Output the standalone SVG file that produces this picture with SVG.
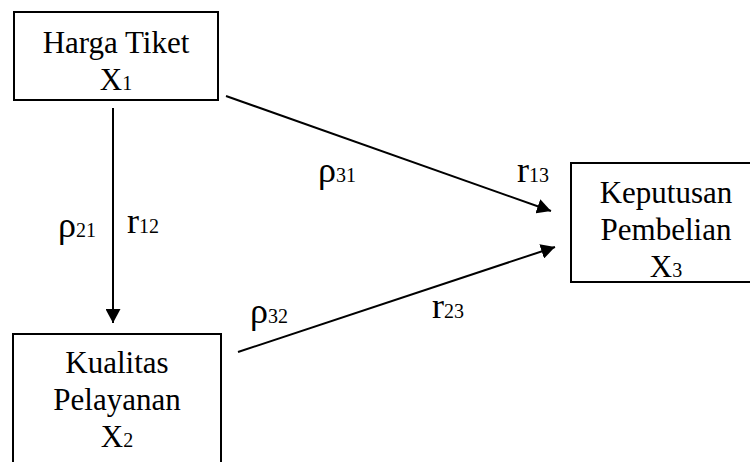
<svg xmlns="http://www.w3.org/2000/svg" width="750" height="462" viewBox="0 0 750 462">
<style>
.box{fill:#fff;stroke:#000;stroke-width:2}
.t{font-family:"Liberation Serif","Times New Roman",serif;font-size:31px;fill:#000}
.l{font-family:"Liberation Serif","Times New Roman",serif;font-size:36px;fill:#000}
.s{font-size:20px}
.c{stroke:#000;stroke-width:2;fill:none}
</style>
<defs>
<marker id="ah" markerUnits="userSpaceOnUse" markerWidth="15" markerHeight="15" refX="14" refY="7.5" orient="auto">
<path d="M0,0 L14,7.5 L0,15 z" fill="#000"/>
</marker>
</defs>
<rect width="750" height="462" fill="#fff"/>
<g id="connectors">
<line class="c" x1="113" y1="108" x2="113" y2="323" marker-end="url(#ah)"/>
<line class="c" x1="226" y1="96" x2="551" y2="211" marker-end="url(#ah)"/>
<line class="c" x1="238" y1="352" x2="555" y2="247" marker-end="url(#ah)"/>
</g>
<g id="labels">
<text class="l" x="58" y="237">ρ<tspan class="s">21</tspan></text>
<text class="l" x="127" y="233">r<tspan class="s">12</tspan></text>
<text class="l" x="318" y="182">ρ<tspan class="s">31</tspan></text>
<text class="l" x="517" y="182">r<tspan class="s">13</tspan></text>
<text class="l" x="250" y="323">ρ<tspan class="s">32</tspan></text>
<text class="l" x="432" y="318">r<tspan class="s">23</tspan></text>
</g>
<g id="x1">
<rect class="box" x="14" y="12" width="204" height="88"/>
<text class="t" x="116" y="53" text-anchor="middle">Harga Tiket</text>
<text class="t" x="116" y="90" text-anchor="middle">X<tspan class="s">1</tspan></text>
</g>
<g id="x2">
<rect class="box" x="13" y="334" width="208" height="140"/>
<text class="t" x="117" y="373" text-anchor="middle">Kualitas</text>
<text class="t" x="117" y="410" text-anchor="middle">Pelayanan</text>
<text class="t" x="117" y="447" text-anchor="middle">X<tspan class="s">2</tspan></text>
</g>
<g id="x3">
<rect class="box" x="571" y="163" width="190" height="119"/>
<text class="t" x="666" y="203" text-anchor="middle">Keputusan</text>
<text class="t" x="666" y="240" text-anchor="middle">Pembelian</text>
<text class="t" x="666" y="277" text-anchor="middle">X<tspan class="s">3</tspan></text>
</g>
</svg>
